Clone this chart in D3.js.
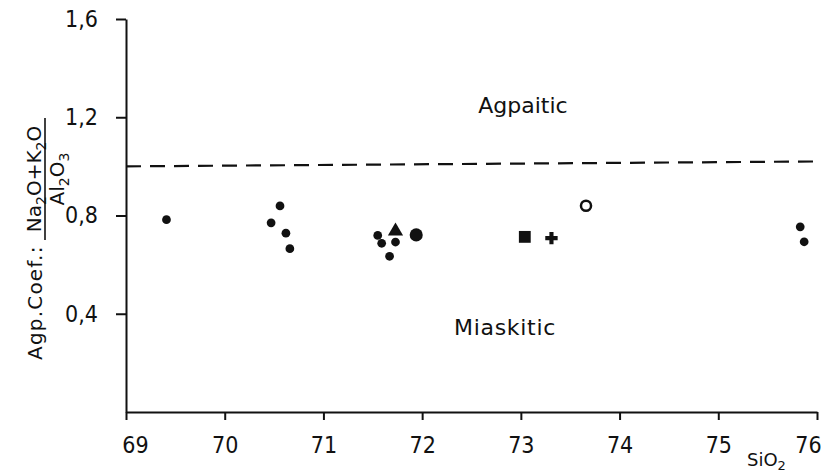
<!DOCTYPE html>
<html>
<head>
<meta charset="utf-8">
<script src="https://cdn.jsdelivr.net/npm/d3@7"></script>
<style>
  body { margin: 0; background: #fff; }
  svg { display: block; }
  .tick text { font-family: "DejaVu Sans Condensed", "Liberation Sans Narrow", sans-serif; font-size: 23px; fill: #111; }
  .label { font-family: "DejaVu Sans", sans-serif; fill: #111; }
</style>
</head>
<body>
<svg id="chart" width="825" height="472"></svg>
<script>
// Values
const silica = [69.41, 70.56, 70.47, 70.62, 70.66, 71.55, 71.59, 71.73, 71.73, 71.67, 71.94, 73.04, 73.31, 73.66, 75.83, 75.87];
const agpCoef = [0.783, 0.839, 0.770, 0.728, 0.665, 0.719, 0.687, 0.736, 0.692, 0.634, 0.721, 0.713, 0.708, 0.840, 0.754, 0.693];
const symbolKind = ["dot", "dot", "dot", "dot", "dot", "dot", "dot", "triangle", "dot", "dot", "bigdot", "square", "plus", "ring", "dot", "dot"];

const xTicks = [69, 70, 71, 72, 73, 74, 75, 76];
const yTicks = [0.4, 0.8, 1.2, 1.6];

// dashed agpaitic/miaskitic boundary (drawn slightly tilted in the original)
const boundaryX = [69, 76];
const boundaryY = [1.0, 1.02];

const svg = d3.select('#chart');

const x = d3.scaleLinear().domain([69, 76]).range([126, 817]);
const y = d3.scaleLinear().domain([0, 1.6]).range([412, 19]);

// axes
const xAxis = svg.append('g')
    .attr('transform', `translate(0, ${y(0)})`)
    .call(d3.axisBottom(x).tickValues(xTicks).tickSize(8).tickSizeOuter(0).tickPadding(17).tickFormat(d3.format('d')));

const yAxis = svg.append('g')
    .attr('transform', `translate(${x(69)}, 0)`)
    .call(d3.axisLeft(y).tickValues(yTicks).tickSize(10).tickSizeOuter(0).tickPadding(18)
        .tickFormat(d => d3.format('.1f')(d).replace('.', ',')));

svg.selectAll('.domain, .tick line')
    .attr('stroke', '#111')
    .attr('stroke-width', 2);

// first and last x labels sit a bit inside the plot in the original
xAxis.selectAll('.tick text')
    .attr('dx', d => d === 69 ? 9 : d === 76 ? -9 : 0);

// boundary line
const line = d3.line().x(d => x(d[0])).y(d => y(d[1]));
svg.append('path')
    .datum(d3.zip(boundaryX, boundaryY))
    .attr('d', line)
    .attr('fill', 'none')
    .attr('stroke', '#111')
    .attr('stroke-width', 2.2)
    .attr('stroke-dasharray', '15,9');

// samples
const symbolFor = {
    dot: d3.symbol(d3.symbolCircle, 60),
    bigdot: d3.symbol(d3.symbolCircle, 135),
    triangle: d3.symbol(d3.symbolTriangle, 100),
    square: d3.symbol(d3.symbolSquare, 140),
    plus: d3.symbol(d3.symbolCross, 85),
    ring: d3.symbol(d3.symbolCircle, 80)
};

const points = d3.range(silica.length).map(i => ({ sx: silica[i], ay: agpCoef[i], kind: symbolKind[i] }));

svg.append('g')
    .selectAll('path')
    .data(points)
    .enter()
    .append('path')
    .attr('transform', d => `translate(${x(d.sx)}, ${y(d.ay)})`)
    .attr('d', d => symbolFor[d.kind]())
    .attr('fill', d => d.kind === 'ring' ? '#fff' : '#111')
    .attr('stroke', d => d.kind === 'ring' ? '#111' : 'none')
    .attr('stroke-width', 2.5);

// field names
svg.append('text')
    .attr('class', 'label')
    .attr('x', 523)
    .attr('y', 113)
    .attr('text-anchor', 'middle')
    .attr('font-size', 22)
    .text('Agpaitic');

svg.append('text')
    .attr('class', 'label')
    .attr('x', 505)
    .attr('y', 335)
    .attr('text-anchor', 'middle')
    .attr('font-size', 22)
    .attr('letter-spacing', 0.7)
    .text('Miaskitic');

// x axis title SiO2
const sio2 = svg.append('text')
    .attr('class', 'label')
    .attr('x', 747)
    .attr('y', 466)
    .attr('font-family', '"DejaVu Sans Condensed", sans-serif')
    .attr('font-size', 18);
sio2.append('tspan').text('SiO');
sio2.append('tspan').attr('dy', 4).attr('font-size', 13).text('2');

// y axis title: Agp.Coef.: (Na2O+K2O)/Al2O3, rotated
const yt = svg.append('g')
    .attr('class', 'label')
    .attr('transform', 'translate(42, 360) rotate(-90)');

yt.append('text')
    .attr('x', 0)
    .attr('y', 0)
    .attr('font-size', 20)
    .attr('letter-spacing', 1.2)
    .text('Agp.Coef.:');

// formula with subscripts; each part shifts the baseline back after a subscript
function chemText(g, parts, xPos, yPos) {
    const t = g.append('text')
        .attr('x', xPos)
        .attr('y', yPos)
        .attr('font-size', 20)
        .attr('text-anchor', 'middle');
    let shifted = false;
    parts.forEach(p => {
        const span = t.append('tspan').text(p.s);
        if (p.sub) {
            span.attr('dy', 5).attr('font-size', 14);
            shifted = true;
        } else if (shifted) {
            span.attr('dy', -5);
            shifted = false;
        }
    });
    return t;
}

const fracStart = 120;
const fracLen = 122;
yt.append('line')
    .attr('x1', fracStart).attr('x2', fracStart + fracLen)
    .attr('y1', 3).attr('y2', 3)
    .attr('stroke', '#111')
    .attr('stroke-width', 1.6);

chemText(yt, [{ s: 'Na' }, { s: '2', sub: true }, { s: 'O+K' }, { s: '2', sub: true }, { s: 'O' }], fracStart + fracLen / 2, -1);
chemText(yt, [{ s: 'Al' }, { s: '2', sub: true }, { s: 'O' }, { s: '3', sub: true }], fracStart + fracLen / 2, 22);
</script>
</body>
</html>
